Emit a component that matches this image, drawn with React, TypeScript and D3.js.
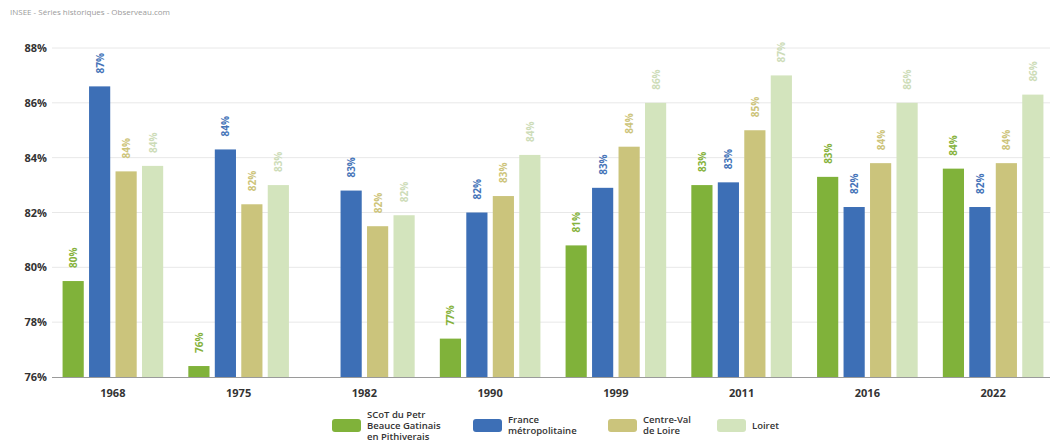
import React from "react";
import * as d3 from "d3";

const years = ["1968", "1975", "1982", "1990", "1999", "2011", "2016", "2022"];
const seriesNames = [
  ["SCoT du Petr", "Beauce Gatinais", "en Pithiverais"],
  ["France", "métropolitaine"],
  ["Centre-Val", "de Loire"],
  ["Loiret"],
];
const scot: (number | null)[] = [79.5, 76.4, null, 77.4, 80.8, 83.0, 83.3, 83.6];
const france: (number | null)[] = [86.6, 84.3, 82.8, 82.0, 82.9, 83.1, 82.2, 82.2];
const centre: (number | null)[] = [83.5, 82.3, 81.5, 82.6, 84.4, 85.0, 83.8, 83.8];
const loiret: (number | null)[] = [83.7, 83.0, 81.9, 84.1, 86.0, 87.0, 86.0, 86.3];
const yTicks = [76, 78, 80, 82, 84, 86, 88];
const source = "INSEE - Séries historiques - Observeau.com";

const seriesData = [scot, france, centre, loiret];
const barColors = ["#80b23a", "#3d6fb6", "#cbc47c", "#d3e4bd"];
const labelColors = ["#86b23c", "#4574b8", "#cdc47a", "#cddcb8"];

const W = 1050;
const H = 444;
const font = "'Open Sans', 'DejaVu Sans', sans-serif";

export default function App() {
  const x0 = d3.scaleBand<string>().domain(years).range([50, 1056]).paddingInner(0.2).paddingOuter(0.1);
  const x1 = d3.scaleBand<number>().domain([0, 1, 2, 3]).range([0, x0.bandwidth()]).paddingInner(0.2).paddingOuter(0);
  const y = d3.scaleLinear().domain([76, 88]).range([377, 48]);

  const legendX = [332, 473, 608, 717];
  const lineH = 11;

  return (
    <svg width={W} height={H} style={{ position: "absolute", left: 0, top: 0, background: "#fff" }}>
      <text x={10} y={15} fontFamily={font} fontSize={8} fill="#9a9a9a">{source}</text>
      {yTicks.map((t) => (
        <g key={t}>
          {t !== 76 && <line x1={52} x2={W} y1={y(t)} y2={y(t)} stroke="#e8e8e8" strokeWidth={1} />}
          <text x={47} y={y(t) + 4} textAnchor="end" fontFamily={font} fontSize={11} fontWeight={700} fill="#333">{`${t}%`}</text>
        </g>
      ))}
      {years.map((yr, i) => (
        <g key={yr} transform={`translate(${x0(yr)},0)`}>
          {seriesData.map((s, k) => {
            const v = s[i];
            if (v == null) return null;
            const bx = x1(k)!;
            const bw = x1.bandwidth();
            const top = y(v);
            const cx = bx + bw / 2;
            const ly = top - 13;
            return (
              <g key={k}>
                <rect x={bx} y={top} width={bw} height={y(76) - top} fill={barColors[k]} />
                <text
                  transform={`translate(${cx + 4},${ly}) rotate(-90)`}
                  fontFamily={font}
                  fontSize={10}
                  fontWeight={700}
                  fill={labelColors[k]}
                >
                  {`${Math.round(v)}%`}
                </text>
              </g>
            );
          })}
          <text x={x0.bandwidth() / 2} y={397} textAnchor="middle" fontFamily={font} fontSize={11} fontWeight={700} fill="#333">{yr}</text>
        </g>
      ))}
      <line x1={52} x2={W} y1={y(76) + 0.5} y2={y(76) + 0.5} stroke="#9a9a9a" strokeWidth={1} />
      {seriesNames.map((lines, k) => {
        const lx = legendX[k];
        const n = lines.length;
        const startY = 425 - ((n - 1) * lineH) / 2 + 3.5;
        return (
          <g key={k}>
            <rect x={lx} y={419} width={29} height={13} rx={3} fill={barColors[k]} />
            {lines.map((ln, j) => (
              <text key={j} x={lx + 35} y={startY + j * lineH} fontFamily={font} fontSize={9.5} fontWeight={600} fill="#333">{ln}</text>
            ))}
          </g>
        );
      })}
    </svg>
  );
}
